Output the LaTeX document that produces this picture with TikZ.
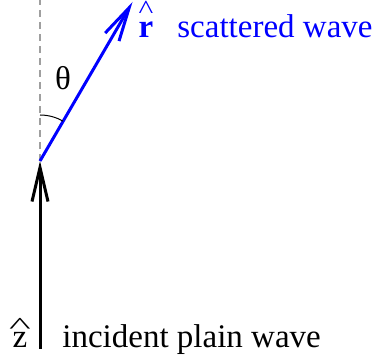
\documentclass[tikz,border=0pt]{standalone}
\usepackage{fontspec}
\setmainfont{Liberation Serif}
\usepackage{graphicx}
\usetikzlibrary{arrows.meta, positioning}
\definecolor{scatblue}{HTML}{0000FF}
% letter with a wide caret set above it
\newcommand{\capped}[4]{\ooalign{\hidewidth\raisebox{#1}{\scalebox{#2}[#3]{\textasciicircum}}\hidewidth\cr#4\cr}}

\begin{document}
\begin{tikzpicture}[x=0.5pt, y=-0.5pt, font=\fontsize{16.5}{19}\selectfont,
  wave/.style={line width=1.5pt, -{Straight Barb[length=17pt, width=8pt, line width=1.5pt]}},
  lbl/.style={inner sep=0pt, anchor=base}
]
\useasboundingbox (0,0) rectangle (374,362);
% ---- origin and axis ----------------------------------------------------
\coordinate (o) at (40,161);
\coordinate (zbot) at (40,349);
\coordinate (ztop) at (40,0);
\coordinate (rtip) at (132.5,2);
\draw[gray!75, line width=0.7pt, dash pattern=on 3.5pt off 2.5pt] (o) -- (ztop);

% ---- incident wave ------------------------------------------------------
\draw[wave, black] (zbot) -- (o);
\node[lbl] (zhat) at (20,348) {\capped{7pt}{1.4}{0.7}{z}};
\node[lbl, anchor=base west] (inc) at (62,348) {incident plain wave};

% ---- scattered wave -----------------------------------------------------
\draw[wave, scatblue] (o) -- (rtip);
\node[lbl, text=scatblue] (rhat) at (146,38) {\capped{9.5pt}{0.95}{0.8}{\textbf{r}}};
\node[lbl, anchor=base west, text=scatblue] (scat) at (177,38) {scattered wave};

% ---- angle --------------------------------------------------------------
\draw[black, line width=0.5pt] ([yshift=23pt]o) arc[start angle=90, end angle=60, radius=23pt];
\node[inner sep=0pt] (theta) at (63,78) {θ};
\end{tikzpicture}
\end{document}
